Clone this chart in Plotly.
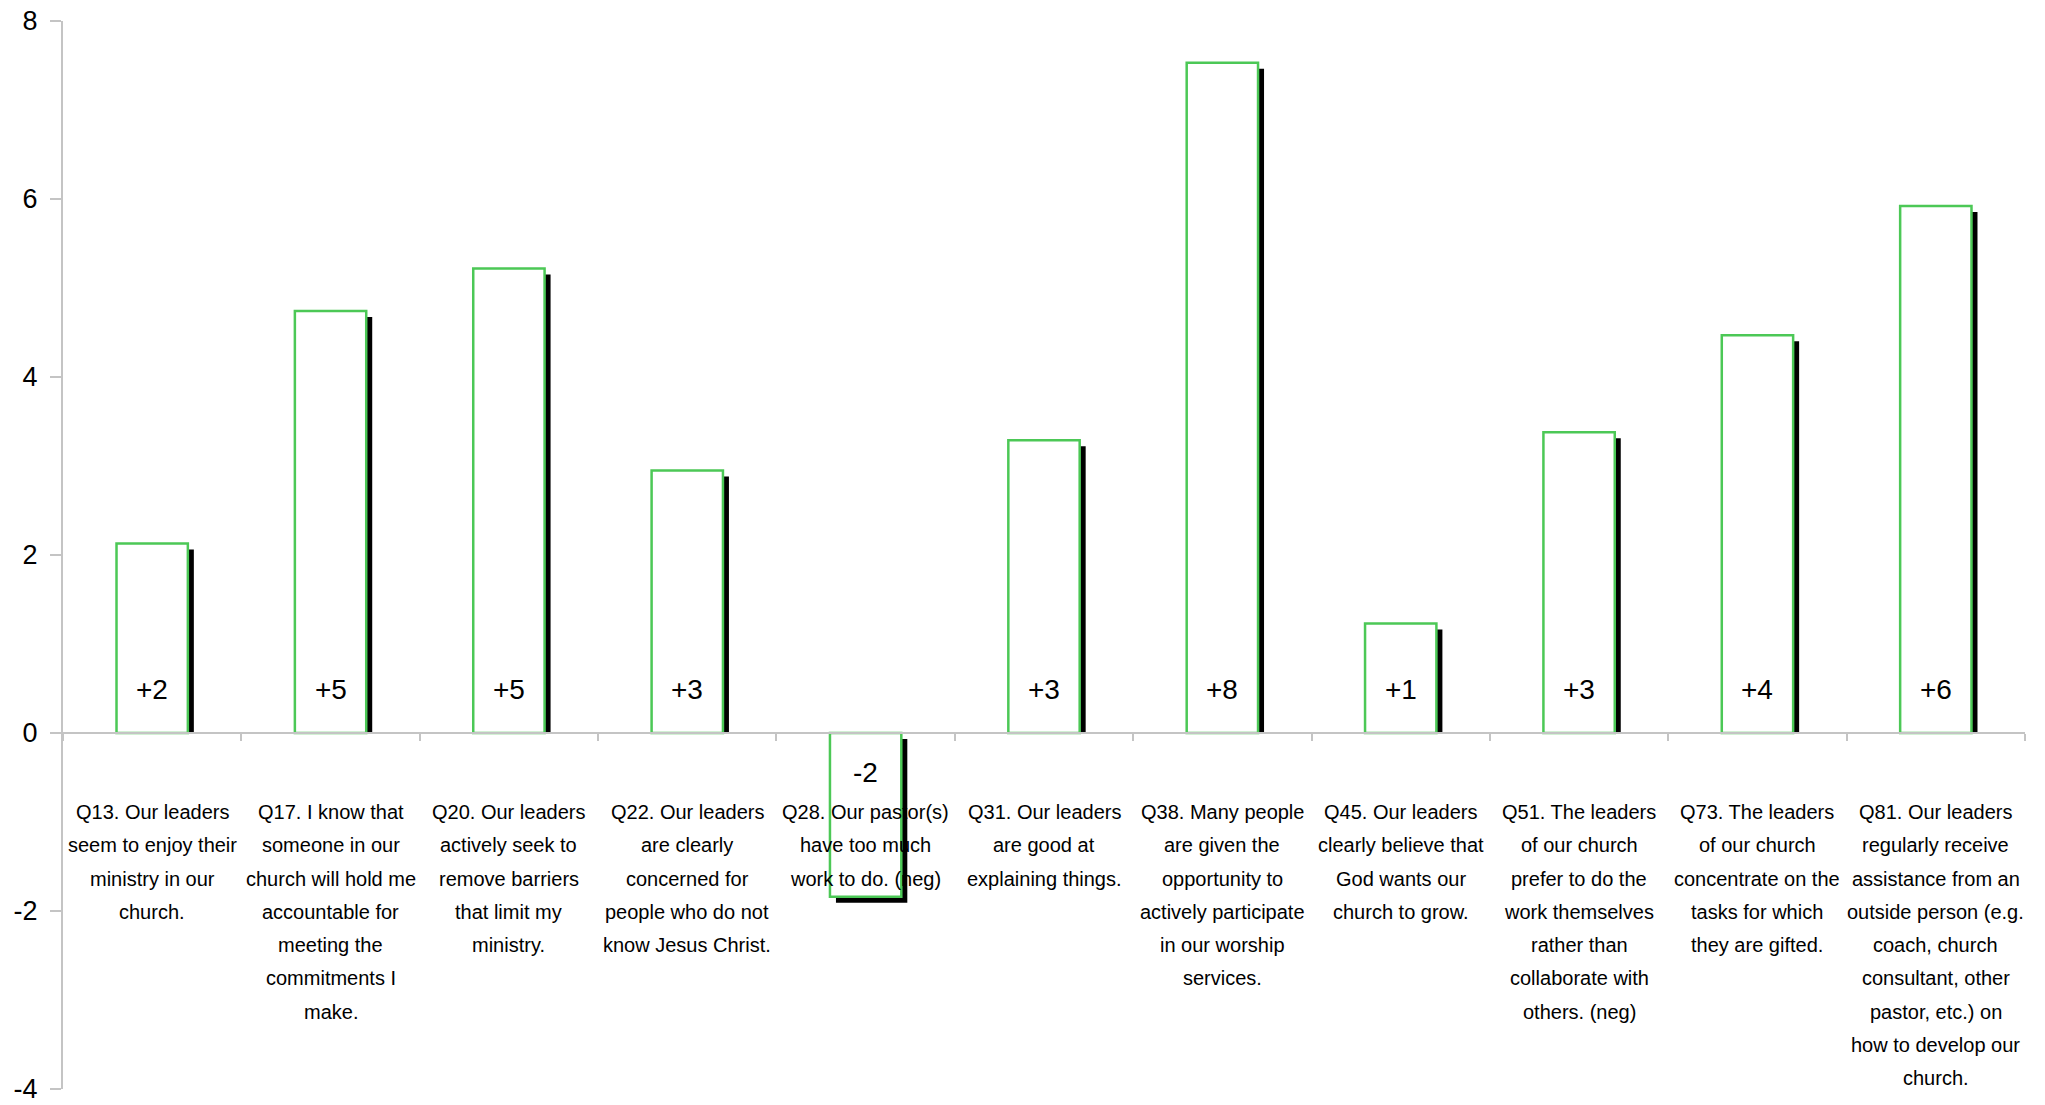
import plotly.graph_objects as go

categories = ["Q13", "Q17", "Q20", "Q22", "Q28", "Q31", "Q38", "Q45", "Q51", "Q73", "Q81"]
values = [2.13, 4.74, 5.22, 2.95, -1.84, 3.29, 7.53, 1.23, 3.38, 4.47, 5.92]
value_labels = ["+2", "+5", "+5", "+3", "-2", "+3", "+8", "+1", "+3", "+4", "+6"]
category_lines = [
    ["Q13. Our leaders", "seem to enjoy their", "ministry in our", "church."],
    ["Q17. I know that", "someone in our", "church will hold me", "accountable for", "meeting the", "commitments I", "make."],
    ["Q20. Our leaders", "actively seek to", "remove barriers", "that limit my", "ministry."],
    ["Q22. Our leaders", "are clearly", "concerned for", "people who do not", "know Jesus Christ."],
    ["Q28. Our pastor(s)", "have too much", "work to do. (neg)"],
    ["Q31. Our leaders", "are good at", "explaining things."],
    ["Q38. Many people", "are given the", "opportunity to", "actively participate", "in our worship", "services."],
    ["Q45. Our leaders", "clearly believe that", "God wants our", "church to grow."],
    ["Q51. The leaders", "of our church", "prefer to do the", "work themselves", "rather than", "collaborate with", "others. (neg)"],
    ["Q73. The leaders", "of our church", "concentrate on the", "tasks for which", "they are gifted."],
    ["Q81. Our leaders", "regularly receive", "assistance from an", "outside person (e.g.", "coach, church", "consultant, other", "pastor, etc.) on", "how to develop our", "church."],
]
y_ticks = [-4, -2, 0, 2, 4, 6, 8]

W, H = 2045, 1105
ML, MR, MT, MB = 63, 20, 21, 16
plot_w = W - ML - MR
plot_h = H - MT - MB
ymin, ymax = -4.001, 8
cat_px = plot_w / len(categories)
unit_px = plot_h / (ymax - ymin)
sx = 6 / cat_px   # shadow offset in category units
sy = 6 / unit_px  # shadow offset in data units

bar_w = 0.4
shadow_base = [0 if v > 0 else -sy for v in values]
shadow_end = [v - sy for v in values]
shadow_len = [e - b for e, b in zip(shadow_end, shadow_base)]

FONT = "Liberation Sans, Arial, sans-serif"
green = "#4cc856"
grey = "#c4c4c4"

fig = go.Figure()
fig.add_trace(go.Bar(
    x=categories, y=shadow_len, base=shadow_base,
    width=bar_w, offset=-bar_w / 2 + sx,
    marker=dict(color="black", line=dict(width=0)),
    hoverinfo="skip", showlegend=False,
))
fig.add_trace(go.Bar(
    x=categories, y=values,
    width=bar_w, offset=-bar_w / 2,
    marker=dict(color="white", line=dict(color=green, width=2.5)),
    showlegend=False,
))

annotations = []
for c, v, lab in zip(categories, values, value_labels):
    annotations.append(dict(
        x=c, y=0, xref="x", yref="y", text=lab, showarrow=False,
        yshift=43 if v > 0 else -40, yanchor="middle", xanchor="center",
        font=dict(family=FONT, size=28, color="black"),
    ))
for c, lines in zip(categories, category_lines):
    for i, line in enumerate(lines):
        annotations.append(dict(
            x=c, y=0, xref="x", yref="y", text=line, showarrow=False,
            yshift=-79 - i * 33.3, yanchor="middle", xanchor="center",
            font=dict(family=FONT, size=20, color="black"),
        ))

fig.update_layout(
    width=W, height=H,
    margin=dict(l=ML, r=MR, t=MT, b=MB, pad=0, autoexpand=False),
    plot_bgcolor="white", paper_bgcolor="white",
    barmode="overlay",
    font=dict(family=FONT, color="black"),
    annotations=annotations,
    xaxis=dict(
        type="category", range=[-0.5, len(categories) - 0.5],
        anchor="free", position=(0 - ymin) / (ymax - ymin),
        showline=True, linecolor=grey, linewidth=2,
        ticks="outside", ticklen=7, tickwidth=2, tickcolor=grey,
        tickson="boundaries", showticklabels=False, showgrid=False,
        zeroline=False, automargin=False,
    ),
    yaxis=dict(
        range=[ymin, ymax], domain=[0, 1],
        tickvals=y_ticks, ticktext=[str(t) for t in y_ticks],
        showline=True, linecolor=grey, linewidth=2,
        ticks="outside", ticklen=11, tickwidth=2, tickcolor=grey,
        tickfont=dict(family=FONT, size=27, color="black"),
        ticklabelstandoff=7, ticklabeloverflow="allow",
        showgrid=False, zeroline=False, automargin=False,
    ),
)

fig.write_html(
    "out.html",
    config={"displayModeBar": False},
    post_script="document.body.style.margin='0';document.body.style.overflow='hidden';",
)
